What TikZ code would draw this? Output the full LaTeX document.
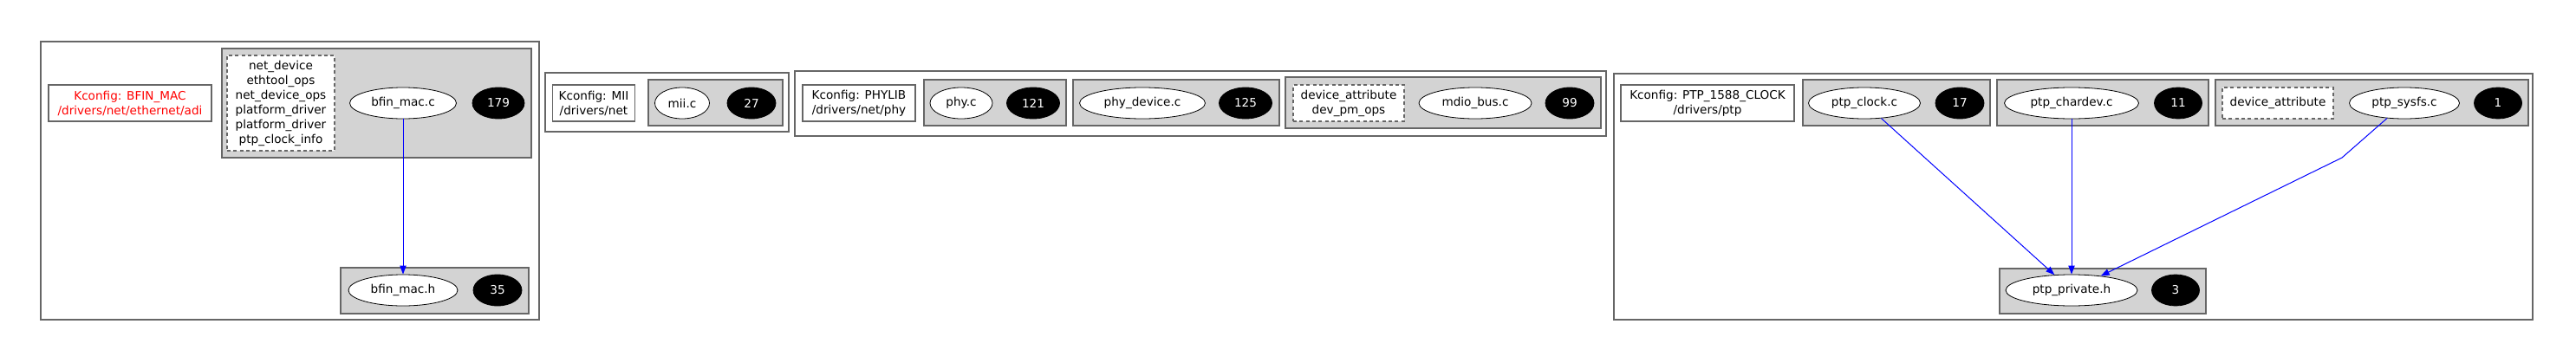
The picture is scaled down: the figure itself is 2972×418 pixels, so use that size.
\documentclass[tikz,border=0pt]{standalone}
\usepackage{fontspec}
\setmainfont{DejaVu Sans}
\usepackage{tikz}
\usetikzlibrary{shapes.geometric, arrows.meta, positioning, calc}
\definecolor{grpfill}{HTML}{D3D3D3}
\definecolor{frame}{HTML}{666666}

\begin{document}
\begin{tikzpicture}[
        x=0.75pt, y=-0.75pt,
        font=\fontsize{10.2}{12.75}\selectfont,
        cluster/.style={draw=frame, line width=1.2pt},
        group/.style={cluster, fill=grpfill},
        kconfig/.style={draw=frame, line width=1.2pt, fill=white, minimum height=31.5pt, inner sep=0pt, align=center},
        symbols/.style={draw=frame, dashed, dash pattern=on 3pt off 2.5pt, line width=1.2pt, fill=white, inner sep=0pt, align=center},
        file/.style={draw, ellipse, fill=white, minimum height=27pt, inner sep=0pt, line width=0.6pt},
        count/.style={file, fill=black, text=white},
        link/.style={-{Triangle[length=7.5pt, width=5.5pt]}, blue, line width=0.75pt}
    ]
        \useasboundingbox (0,0) rectangle (2972,418);

        % BFIN_MAC
        \draw[cluster] (47,48) rectangle (622,369);
        \draw[group] (256,56) rectangle (613,182);
        \draw[group] (393,309) rectangle (610,362);
        \node[kconfig, text=red, minimum width=141pt] (kcfgbfin) at (150,119) {Kconfig: BFIN\_MAC\\/drivers/net/ethernet/adi};
        \node[symbols, minimum width=93pt, minimum height=82.5pt] (symbfin) at (324,119) {net\_device\\ethtool\_ops\\net\_device\_ops\\platform\_driver\\platform\_driver\\ptp\_clock\_info};
        \node[file, minimum width=92.25pt] (bfinmacc) at (465,119) {bfin\_mac.c};
        \node[count, minimum width=45pt] (cntbfinmacc) at (575,119) {179};
        \node[file, minimum width=94.5pt] (bfinmach) at (465,335) {bfin\_mac.h};
        \node[count, minimum width=42pt] (cntbfinmach) at (574,335) {35};

        % MII
        \draw[cluster] (629,84) rectangle (910,152);
        \draw[group] (748,92) rectangle (903,145);
        \node[kconfig, minimum width=71.25pt] (kcfgmii) at (685,119) {Kconfig: MII\\/drivers/net};
        \node[file, minimum width=47.25pt] (miic) at (787,119) {mii.c};
        \node[count, minimum width=42pt] (cntmiic) at (867,119) {27};

        % PHYLIB
        \draw[cluster] (917,82) rectangle (1853,157);
        \draw[group] (1066,92) rectangle (1230,145);
        \draw[group] (1238,92) rectangle (1476,145);
        \draw[group] (1483,89) rectangle (1847,148);
        \node[kconfig, minimum width=97.5pt] (kcfgphy) at (991,119) {Kconfig: PHYLIB\\/drivers/net/phy};
        \node[file, minimum width=54pt] (phyc) at (1109,119) {phy.c};
        \node[count, minimum width=45.75pt] (cntphyc) at (1192,119) {121};
        \node[file, minimum width=108.75pt] (phydevc) at (1318,119) {phy\_device.c};
        \node[count, minimum width=45.75pt] (cntphydevc) at (1437,119) {125};
        \node[symbols, minimum width=96pt, minimum height=31.5pt] (symmdio) at (1556,119) {device\_attribute\\dev\_pm\_ops};
        \node[file, minimum width=97.5pt] (mdiobusc) at (1702,119) {mdio\_bus.c};
        \node[count, minimum width=42pt] (cntmdiobusc) at (1811,119) {99};

        % PTP_1588_CLOCK
        \draw[cluster] (1862,85) rectangle (2922,369);
        \draw[group] (2080,92) rectangle (2296,145);
        \draw[group] (2304,92) rectangle (2548,145);
        \draw[group] (2556,92) rectangle (2917,145);
        \draw[group] (2307,310) rectangle (2545,362);
        \node[kconfig, minimum width=150pt] (kcfgptp) at (1970,119) {Kconfig: PTP\_1588\_CLOCK\\/drivers/ptp};
        \node[file, minimum width=96.75pt] (ptpclockc) at (2151,119) {ptp\_clock.c};
        \node[count, minimum width=42pt] (cntptpclockc) at (2261,119) {17};
        \node[file, minimum width=116.25pt] (ptpchardevc) at (2390,119) {ptp\_chardev.c};
        \node[count, minimum width=41.25pt] (cntptpchardevc) at (2513,119) {11};
        \node[symbols, minimum width=96pt, minimum height=27pt] (symsysfs) at (2628,119) {device\_attribute};
        \node[file, minimum width=95.25pt] (ptpsysfsc) at (2774,119) {ptp\_sysfs.c};
        \node[count, minimum width=41.25pt] (cntptpsysfsc) at (2882,119) {1};
        \node[file, minimum width=114pt] (ptpprivh) at (2390,335) {ptp\_private.h};
        \node[count, minimum width=41.25pt] (cntptpprivh) at (2510,335) {3};
        \coordinate (sysfsbend) at (2702,182);

        % Includes
        \draw[link] (bfinmacc) -- (bfinmach);
        \draw[link] (ptpclockc) -- (ptpprivh);
        \draw[link] (ptpchardevc) -- (ptpprivh);
        \draw[link] (ptpsysfsc) -- (sysfsbend) -- (ptpprivh);

    \end{tikzpicture}
\end{document}
